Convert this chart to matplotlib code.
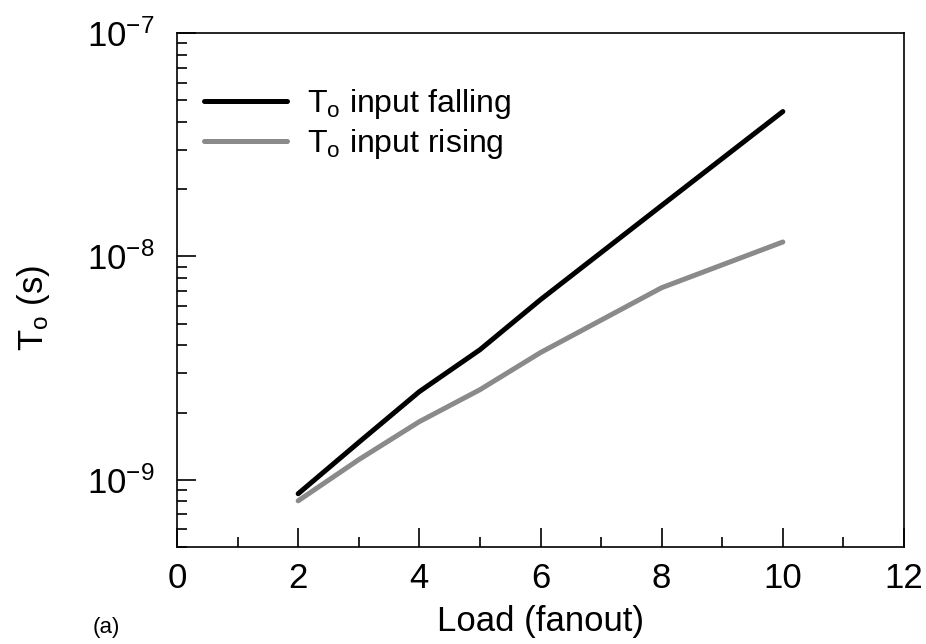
import numpy as np
import matplotlib
matplotlib.use("Agg")
import matplotlib.pyplot as plt

plt.rcParams['font.family'] = ['Liberation Sans', 'DejaVu Sans']
plt.rcParams['mathtext.default'] = 'regular'

# fanout load and output delay (s)
load = [2, 3, 4, 5, 6, 8, 10]
t_falling = [8.66e-10, 1.47e-9, 2.48e-9, 3.82e-9, 6.40e-9, 1.69e-8, 4.45e-8]
t_rising = [8.05e-10, 1.23e-9, 1.82e-9, 2.53e-9, 3.71e-9, 7.24e-9, 1.16e-8]

fig = plt.figure(figsize=(9.26, 6.44), dpi=100)
ax = fig.add_axes([177/926, 1 - 547/644, (904 - 177)/926, (547 - 33)/644])

ax.plot(load, t_falling, color='black', lw=3.6, solid_capstyle='round',
        label='T$_o$ input falling')
ax.plot(load, t_rising, color='#8a8a8a', lw=3.6, solid_capstyle='round',
        label='T$_o$ input rising')

ax.set_yscale('log')
ax.set_xlim(0, 12)
ax.set_ylim(5e-10, 1e-7)
ax.set_xticks(range(0, 13, 2))
ax.set_xticks(range(1, 12, 2), minor=True)

ax.tick_params(which='both', direction='in', top=False, right=False,
               labelsize=25, width=1.2)
ax.tick_params(which='major', length=14, pad=11)
ax.tick_params(which='minor', length=7)
ax.tick_params(axis='y', which='major', pad=16)
for s in ax.spines.values():
    s.set_linewidth(1.2)

ax.set_xlabel('Load (fanout)', fontsize=25, labelpad=7)
ax.set_ylabel('T$_o$ (s)', fontsize=25)
ax.yaxis.set_label_coords(-0.172, 0.465)

ax.legend(loc='upper left', bbox_to_anchor=(0.020, 0.92), frameon=False,
          fontsize=23, handlelength=2.6, handletextpad=0.6,
          labelspacing=0.2, borderaxespad=0)

# panel tag in the lower-left corner
fig.text(93/926, 1 - 638/644, '(a)', fontsize=16, va='bottom')

fig.savefig('out.png', dpi=100)
